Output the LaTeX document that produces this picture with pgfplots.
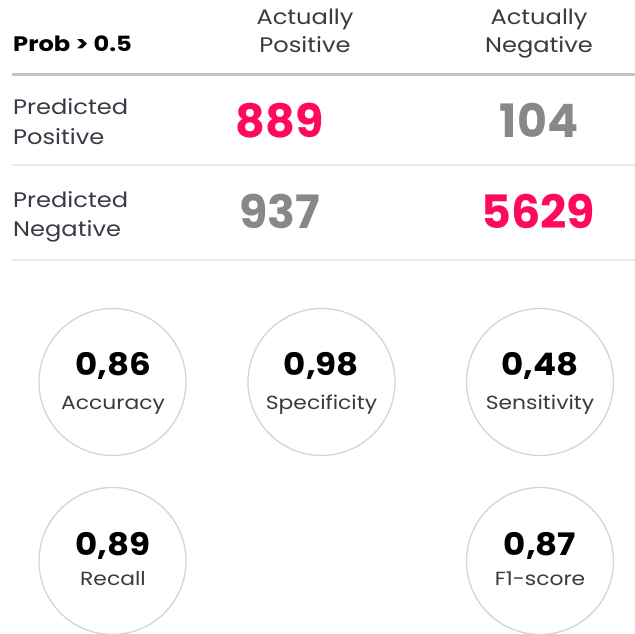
\documentclass[border=0pt]{standalone}
\usepackage{pgfplots}
\pgfplotsset{compat=1.18}
\usepackage{fontspec}
\setmainfont{Poppins}[FakeStretch=1.15]
\newfontfamily\numfont{Poppins}
\newfontfamily\metfont{Poppins}[FakeStretch=1.1]
\definecolor{pinkc}{HTML}{FF0A5A}
\definecolor{grayn}{HTML}{888888}
\definecolor{txt}{HTML}{3A3A45}
\definecolor{circ}{HTML}{D4D4D4}
\begin{document}
\begin{tikzpicture}
\begin{axis}[
  name=ax,
  width=635pt, height=634pt, scale only axis,
  xmin=0, xmax=635, ymin=0, ymax=634, y dir=reverse,
  hide axis, clip=false,
  every node near coord/.append style={anchor=base, inner sep=0pt},
]
% rules
\addplot[line width=3pt, color=black!23] coordinates {(12,74.5) (635,74.5)};
\addplot[line width=2pt, color=black!9] coordinates {(12,165) (635,165)};
\addplot[line width=2pt, color=black!9] coordinates {(12,259.5) (635,259.5)};
% circles
\addplot[only marks, mark=*, mark size=73.5pt, mark options={draw=circ, fill=white, line width=1.3pt}]
  coordinates {(112.5,382) (321.5,382) (540,382) (112.5,561) (540,561)};
% headers
\node[anchor=base west, inner sep=0pt, font=\fontsize{21}{21}\selectfont\bfseries, text=black] at (axis cs:13,52) {Prob > 0.5};
\node[anchor=base, inner sep=0pt, font=\fontsize{21}{21}\selectfont, text=txt] at (axis cs:305,25) {Actually};
\node[anchor=base, inner sep=0pt, font=\fontsize{21}{21}\selectfont, text=txt] at (axis cs:305,53) {Positive};
\node[anchor=base, inner sep=0pt, font=\fontsize{21}{21}\selectfont, text=txt] at (axis cs:539,25) {Actually};
\node[anchor=base, inner sep=0pt, font=\fontsize{21}{21}\selectfont, text=txt] at (axis cs:539,53) {Negative};
\node[anchor=base west, inner sep=0pt, font=\fontsize{21}{21}\selectfont, text=txt] at (axis cs:13,114) {Predicted};
\node[anchor=base west, inner sep=0pt, font=\fontsize{21}{21}\selectfont, text=txt] at (axis cs:13,144) {Positive};
\node[anchor=base west, inner sep=0pt, font=\fontsize{21}{21}\selectfont, text=txt] at (axis cs:13,207) {Predicted};
\node[anchor=base west, inner sep=0pt, font=\fontsize{21}{21}\selectfont, text=txt] at (axis cs:13,236) {Negative};
% confusion matrix values
\addplot[only marks, mark=none, point meta=explicit symbolic, nodes near coords,
  every node near coord/.append style={font=\numfont\fontsize{46}{46}\selectfont\bfseries, text=pinkc}]
  table[meta=v] {
x y v
279.5 137 889
538 228 5629
};
\addplot[only marks, mark=none, point meta=explicit symbolic, nodes near coords,
  every node near coord/.append style={font=\numfont\fontsize{46}{46}\selectfont\bfseries, text=grayn}]
  table[meta=v] {
x y v
539 137 104
280 228 937
};
% metric values
\addplot[only marks, mark=none, point meta=explicit symbolic, nodes near coords,
  every node near coord/.append style={font=\metfont\fontsize{31}{31}\selectfont\bfseries, text=black}]
  table[meta=v] {
x y v
113 375 {0,86}
321.5 375 {0,98}
540 375 {0,48}
113 555 {0,89}
540 555 {0,87}
};
\addplot[only marks, mark=none, point meta=explicit symbolic, nodes near coords,
  every node near coord/.append style={font=\fontsize{19}{19}\selectfont, text=txt}]
  table[meta=v] {
x y v
113 409 Accuracy
321.5 409 Specificity
540 409 Sensitivity
113 585 Recall
540 585 F1-score
};
\end{axis}
\pgfresetboundingbox
\path (ax.south west) rectangle (ax.north east);
\end{tikzpicture}
\end{document}
